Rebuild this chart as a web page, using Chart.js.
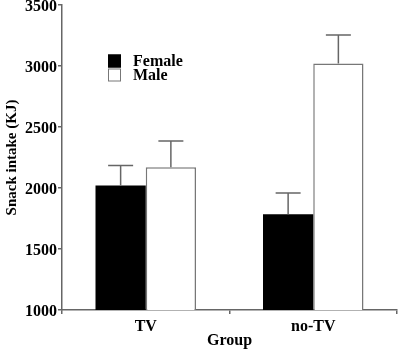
<!DOCTYPE html>
<html>
<head>
<meta charset="utf-8">
<script src="https://cdn.jsdelivr.net/npm/chart.js@4"></script>
<style>
  body { margin: 0; background: #fff; }
</style>
</head>
<body>
<canvas id="chart" width="400" height="350"></canvas>
<script>
let groups = ["TV", "no-TV"];
let female = [2020, 1785];
let male = [2170, 3020];
let femaleErr = [165, 175];
let maleErr = [215, 235];
let yTicks = [1000, 1500, 2000, 2500, 3000, 3500];

const FONT = "'Liberation Serif', 'Times New Roman', serif";
const AXIS = "#666";

// upper error bars only
const errorBars = {
    id: "errorBars",
    afterDatasetsDraw(chart) {
        const ctx = chart.ctx;
        const yScale = chart.scales.y;
        const errs = [femaleErr, maleErr];
        ctx.save();
        ctx.strokeStyle = AXIS;
        ctx.lineWidth = 1.5;
        chart.data.datasets.forEach((ds, d) => {
            chart.getDatasetMeta(d).data.forEach((bar, i) => {
                let top = yScale.getPixelForValue(ds.data[i] + errs[d][i]);
                ctx.beginPath();
                ctx.moveTo(bar.x, bar.y);
                ctx.lineTo(bar.x, top);
                ctx.moveTo(bar.x - 12.5, top);
                ctx.lineTo(bar.x + 12.5, top);
                ctx.stroke();
            });
        });
        ctx.restore();
    }
};

// legend in the upper left of the plot
const boxLegend = {
    id: "boxLegend",
    afterDraw(chart) {
        const ctx = chart.ctx;
        ctx.save();
        ctx.font = "bold 16px " + FONT;
        ctx.textBaseline = "middle";
        chart.data.datasets.forEach((ds, d) => {
            let cy = 61 + d * 14;
            ctx.fillStyle = ds.backgroundColor;
            ctx.fillRect(108, cy - 6.5, 13, 13);
            ctx.strokeStyle = ds.borderColor;
            ctx.lineWidth = 1;
            ctx.strokeRect(108.5, cy - 6, 12, 12);
            ctx.fillStyle = "#000";
            ctx.fillText(ds.label, 133, cy + 1);
        });
        ctx.restore();
    }
};

new Chart(document.getElementById("chart"), {
    type: "bar",
    data: {
        labels: groups,
        datasets: [
            {
                label: "Female",
                data: female,
                backgroundColor: "#000",
                borderColor: "#000",
                borderWidth: 0
            },
            {
                label: "Male",
                data: male,
                backgroundColor: "#fff",
                borderColor: "#777",
                borderWidth: 1.5,
                borderSkipped: "bottom"
            }
        ]
    },
    options: {
        responsive: false,
        animation: false,
        devicePixelRatio: 1,
        layout: { padding: { top: 5, right: 3, left: 0, bottom: 0 } },
        datasets: {
            bar: { categoryPercentage: 0.6, barPercentage: 1.0 }
        },
        plugins: {
            legend: { display: false },
            tooltip: { enabled: false }
        },
        scales: {
            x: {
                offset: true,
                grid: {
                    offset: true,
                    drawOnChartArea: false,
                    color: AXIS,
                    tickLength: 4,
                    lineWidth: 1.5
                },
                border: { color: AXIS, width: 1.5 },
                ticks: {
                    color: "#000",
                    padding: 3,
                    font: { family: FONT, size: 16, weight: "bold" }
                },
                title: {
                    display: true,
                    text: "Group",
                    color: "#000",
                    padding: 0,
                    font: { family: FONT, size: 16, weight: "bold" }
                },
                afterFit(scale) {
                    scale.height = 40;
                    scale.paddingLeft = 0;
                    scale.paddingRight = 0;
                }
            },
            y: {
                min: 1000,
                max: 3500,
                afterBuildTicks(scale) {
                    scale.ticks = yTicks.map(v => ({ value: v }));
                },
                grid: {
                    drawOnChartArea: false,
                    color: AXIS,
                    tickLength: 4,
                    lineWidth: 1.5
                },
                border: { color: AXIS, width: 1.5 },
                ticks: {
                    color: "#000",
                    padding: 1,
                    labelOffset: 2,
                    callback: v => String(v),
                    font: { family: FONT, size: 16, weight: "bold" }
                },
                title: {
                    display: true,
                    text: "Snack intake (KJ)",
                    color: "#000",
                    padding: { top: 3, bottom: 0 },
                    font: { family: FONT, size: 15, weight: "bold" }
                },
                afterFit(scale) {
                    scale.width = 62;
                    scale.paddingTop = 0;
                    scale.paddingBottom = 0;
                }
            }
        }
    },
    plugins: [errorBars, boxLegend]
});
</script>
</body>
</html>
